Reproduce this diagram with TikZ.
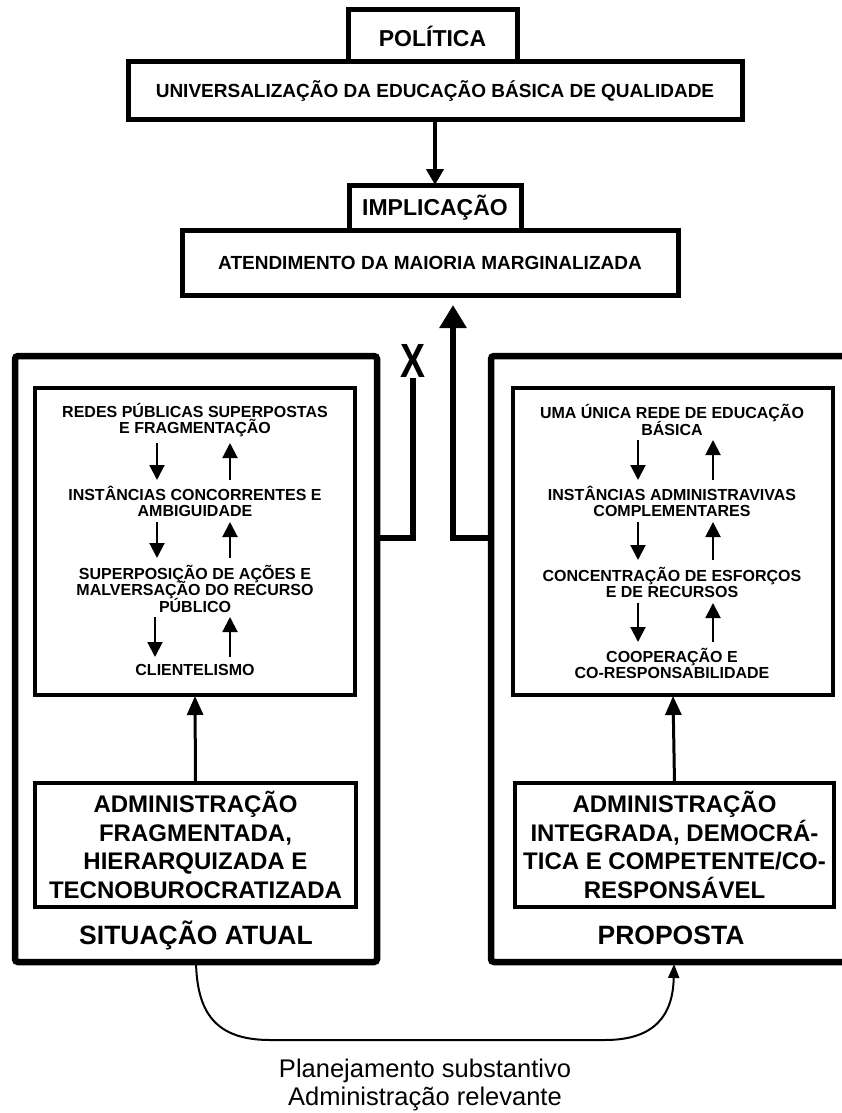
\documentclass[tikz,border=0pt]{standalone}
\usepackage{fontspec}
\setmainfont{Liberation Sans}
\newfontfamily\condfam[FakeStretch=0.78]{Liberation Sans}
\usetikzlibrary{arrows.meta}
\newcommand\tightls{\lineskiplimit=-20pt\relax\lineskip=0pt\relax}
\tikzset{
  outerbox/.style={draw, line width=6.5pt, rounded corners=3pt, outer sep=0pt, inner sep=0pt, anchor=north west},
  innerbox/.style={draw, line width=4.5pt, outer sep=0pt, inner sep=0pt, anchor=north west},
  topbox/.style={draw, line width=5pt, outer sep=0pt, inner sep=0pt, anchor=north west, fill=white},
  smalltxt/.style={font=\bfseries\fontsize{19}{21}\selectfont},
  headtxt/.style={font=\bfseries\fontsize{23}{25}\selectfont},
  celltxt/.style={inner sep=0pt, align=center, font=\bfseries\fontsize{16}{16.5}\selectfont\tightls},
  admbox/.style={draw, line width=4.5pt, outer sep=0pt, inner sep=0pt, anchor=north west, align=center,
                 font=\bfseries\fontsize{24}{28.5}\selectfont\tightls},
  labtxt/.style={inner sep=0pt, font=\bfseries\fontsize{26.5}{28}\selectfont},
  sarr/.style={line width=2pt, -{Triangle[width=15pt,length=15pt]}},
  aarr/.style={line width=3pt, -{Triangle[width=16pt,length=19pt]}, shorten >=1pt},
  toparr/.style={line width=4pt, -{Triangle[width=17pt,length=16pt]}},
  bigarr/.style={line width=6pt, -{Triangle[width=26pt,length=23pt]}},
  bigline/.style={line width=6pt},
  curvearr/.style={line width=2pt, -{Triangle[width=11pt,length=14pt]}},
  xmark/.style={inner sep=0pt, font=\condfam\bfseries\fontsize{48}{48}\selectfont},
  bottomtxt/.style={inner sep=0pt, align=center, font=\fontsize{25.5}{28}\selectfont}
}
\begin{document}
\begin{tikzpicture}[x=1pt,y=-1pt]
\useasboundingbox (0,0) rectangle (842,1113);
\fill[white] (0,0) rectangle (842,1113);
\clip (0,0) rectangle (842,1113);

% top part
\node[topbox, smalltxt, minimum width=614pt, minimum height=58pt] (univ) at (128,62)
  {UNIVERSALIZAÇÃO DA EDUCAÇÃO BÁSICA DE QUALIDADE};
\node[topbox, headtxt, minimum width=169pt, minimum height=52pt] (pol) at (348,10) {POLÍTICA};
\node[topbox, smalltxt, minimum width=496pt, minimum height=65pt] (aten) at (182,230)
  {ATENDIMENTO DA MAIORIA MARGINALIZADA};
\node[topbox, headtxt, minimum width=172pt, minimum height=45pt] (impl) at (349,185) {IMPLICAÇÃO};
\draw[toparr] (univ.south) -- (impl.north);

% outer boxes
\node[outerbox, minimum width=362pt, minimum height=606pt] (outL) at (15,356) {};
\node[outerbox, minimum width=366pt, minimum height=606pt] (outR) at (491,356) {};

% inner boxes
\node[innerbox, minimum width=320pt, minimum height=307pt] (inL) at (35,388) {};
\node[innerbox, minimum width=320pt, minimum height=307pt] (inR) at (513,388) {};

% admin boxes
\node[admbox, minimum width=321pt, minimum height=124pt] (admL) at (35,783)
  {ADMINISTRAÇÃO\\FRAGMENTADA,\\HIERARQUIZADA E\\TECNOBUROCRATIZADA};
\node[admbox, minimum width=319pt, minimum height=124pt] (admR) at (515,783)
  {ADMINISTRAÇÃO\\INTEGRADA, DEMOCRÁ-\\TICA E COMPETENTE/CO-\\RESPONSÁVEL};

\node[labtxt] (sitL) at (196,935) {SITUAÇÃO ATUAL};
\node[labtxt] (propR) at (671,935) {PROPOSTA};

\draw[aarr] (admL.north) -- (inL.south);
\draw[aarr] (admR.north) -- (inR.south);

% left inner texts
\node[celltxt] (L1) at (195,420) {REDES PÚBLICAS SUPERPOSTAS\\E FRAGMENTAÇÃO};
\node[celltxt] (L2) at (195,501.5) {INSTÂNCIAS CONCORRENTES E\\AMBIGUIDADE};
\node[celltxt] (L3) at (195,588.5) {SUPERPOSIÇÃO DE AÇÕES E\\MALVERSAÇÃO DO RECURSO\\PÚBLICO};
\node[celltxt] (L4) at (195,670) {CLIENTELISMO};

\draw[sarr] ([xshift=-38pt,yshift=-23pt]L1.center) -- ([xshift=-38pt,yshift=21.5pt]L2.center);
\draw[sarr] ([xshift=35pt,yshift=21.5pt]L2.center) -- ([xshift=35pt,yshift=-23pt]L1.center);
\draw[sarr] ([xshift=-38pt,yshift=-20.5pt]L2.center) -- ([xshift=-38pt,yshift=30.5pt]L3.center);
\draw[sarr] ([xshift=35pt,yshift=30.5pt]L3.center) -- ([xshift=35pt,yshift=-20.5pt]L2.center);
\draw[sarr] ([xshift=-40pt,yshift=-28.5pt]L3.center) -- ([xshift=-40pt,yshift=13pt]L4.center);
\draw[sarr] ([xshift=35pt,yshift=13pt]L4.center) -- ([xshift=35pt,yshift=-28.5pt]L3.center);

% right inner texts
\node[celltxt] (R1) at (672,420) {UMA ÚNICA REDE DE EDUCAÇÃO\\BÁSICA};
\node[celltxt] (R2) at (672,501.5) {INSTÂNCIAS ADMINISTRAVIVAS\\COMPLEMENTARES};
\node[celltxt] (R3) at (672,582.5) {CONCENTRAÇÃO DE ESFORÇOS\\E DE RECURSOS};
\node[celltxt] (R4) at (672,663.5) {COOPERAÇÃO E\\CO-RESPONSABILIDADE};

\draw[sarr] ([xshift=-34pt,yshift=-20pt]R1.center) -- ([xshift=-34pt,yshift=21.5pt]R2.center);
\draw[sarr] ([xshift=41pt,yshift=21.5pt]R2.center) -- ([xshift=41pt,yshift=-20pt]R1.center);
\draw[sarr] ([xshift=-34pt,yshift=-20.5pt]R2.center) -- ([xshift=-34pt,yshift=22.5pt]R3.center);
\draw[sarr] ([xshift=41pt,yshift=22.5pt]R3.center) -- ([xshift=41pt,yshift=-20.5pt]R2.center);
\draw[sarr] ([xshift=-34pt,yshift=-20.5pt]R3.center) -- ([xshift=-34pt,yshift=21.5pt]R4.center);
\draw[sarr] ([xshift=41pt,yshift=21.5pt]R4.center) -- ([xshift=41pt,yshift=-20.5pt]R3.center);

% connectors between the two situations and the top
\coordinate (jL) at (413,538);
\coordinate (jR) at (453,538);
\node[xmark] (xm) at (413,361) {X};
\draw[bigline] (outL.east |- jL) -- (jL) -- (xm.south);
\draw[bigarr, shorten >=10pt] (outR.west |- jR) -- (jR) -- (jR |- aten.south);

% bottom curve
\coordinate (cb1) at (270,1040);
\coordinate (cb2) at (605,1040);
\draw[curvearr] (outL.south) .. controls (197,1012) and (215,1040) .. (cb1) -- (cb2)
  .. controls (655,1040) and (673,1015) .. ([yshift=-2pt]outR.south);

\node[bottomtxt, anchor=north] (plan) at (425,1059)
  {Planejamento substantivo\\Administração relevante};
\end{tikzpicture}
\end{document}
